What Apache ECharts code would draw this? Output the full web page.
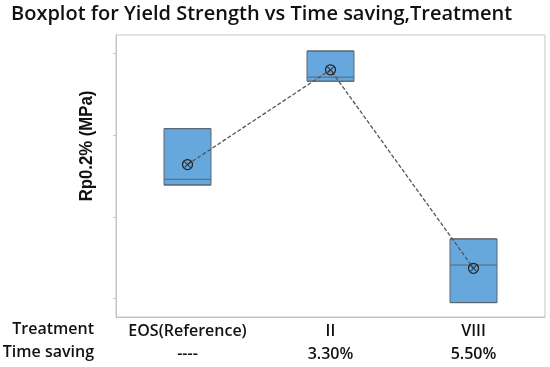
<!DOCTYPE html>
<html>
<head>
<meta charset="utf-8">
<script src="https://cdn.jsdelivr.net/npm/echarts@6/dist/echarts.min.js"></script>
<style>html,body{margin:0;padding:0;background:#fff}#c{width:550px;height:367px}</style>
</head>
<body>
<div id="c"></div>
<script>
// Data (Rp0.2% in MPa, estimated — axis had no labels)
const treatments = ['EOS(Reference)', 'II', 'VIII'];
const timeSaving = ['----', '3.30%', '5.50%'];
// [min, Q1, median, Q3, max]
const boxData = [
  [313.9, 313.9, 314.6, 320.8, 320.8],
  [326.6, 326.6, 327.1, 330.3, 330.3],
  [299.5, 299.5, 304.1, 307.3, 307.3]
];
const means = [316.4, 328.0, 303.7];
const yTicks = [300, 310, 320, 330];
const yMin = 297.74, yMax = 332.26;

const FONT = '"Open Sans", "Noto Sans", sans-serif';
const chart = echarts.init(document.getElementById('c'), null, {renderer: 'canvas'});
chart.setOption({
  animation: false,
  backgroundColor: '#fff',
  title: {
    text: 'Boxplot for Yield Strength vs Time saving,Treatment',
    left: 6, top: -1,
    textStyle: {fontFamily: FONT, fontWeight: 600, fontSize: 20, color: '#111'}
  },
  grid: {left: 116, top: 35, right: 5, bottom: 50, show: true, borderColor: '#c4c4c4', borderWidth: 1, backgroundColor: '#fff'},
  xAxis: {
    type: 'category',
    data: treatments,
    axisLine: {lineStyle: {color: '#c4c4c4'}},
    axisTick: {alignWithLabel: true, length: 3, lineStyle: {color: '#c4c4c4'}},
    axisLabel: {
      interval: 0,
      hideOverlap: false,
      margin: 3,
      fontFamily: FONT, fontWeight: 600, fontSize: 16, color: '#111', lineHeight: 23,
      formatter: function (v, i) { return v + '\n' + timeSaving[i]; }
    }
  },
  yAxis: {
    type: 'value',
    min: yMin, max: yMax,
    axisLine: {show: true, lineStyle: {color: '#c4c4c4'}},
    axisTick: {show: true, length: 3, customValues: yTicks, lineStyle: {color: '#c4c4c4'}},
    axisLabel: {show: false},
    splitLine: {show: false}
  },
  graphic: [
    {type: 'text', x: 87, y: 146, rotation: Math.PI / 2, scaleX: 0.88,
     style: {text: 'Rp0.2% (MPa)', font: 'bold 19px "Liberation Sans", Arial, sans-serif', fill: '#111', align: 'center', verticalAlign: 'middle'}},
    {type: 'text', right: 456, top: 321, style: {text: 'Treatment', font: '600 16px ' + FONT, fill: '#111', align: 'right'}},
    {type: 'text', right: 456, top: 344, style: {text: 'Time saving', font: '600 16px ' + FONT, fill: '#111', align: 'right'}}
  ],
  series: [
    {
      type: 'boxplot',
      data: boxData,
      boxWidth: [47, 47],
      itemStyle: {color: '#66a7de', borderColor: '#5c6670', borderWidth: 1}
    },
    {
      type: 'line',
      data: means,
      symbol: 'circle',
      symbolSize: 10,
      itemStyle: {color: 'rgba(0,0,0,0)', borderColor: '#222', borderWidth: 1.2},
      lineStyle: {color: '#555', width: 1.3, type: [4, 2]},
      z: 3
    },
    {
      type: 'scatter',
      data: means,
      symbol: 'path://M0,0L10,10M10,0L0,10',
      symbolSize: 6,
      itemStyle: {color: 'rgba(0,0,0,0)', borderColor: '#222', borderWidth: 1.2},
      z: 4
    }
  ]
});
</script>
</body>
</html>
